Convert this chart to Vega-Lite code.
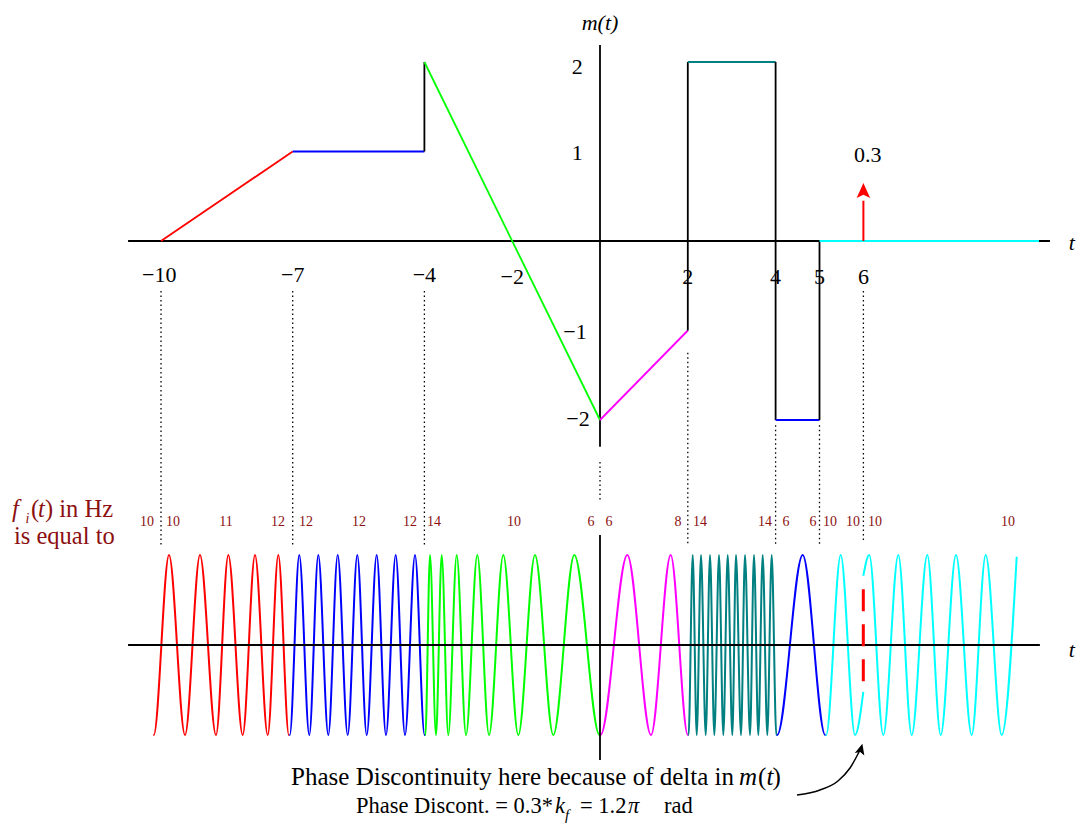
{
  "$schema": "https://vega.github.io/schema/vega-lite/v6.json",
  "width": 1077,
  "height": 825,
  "autosize": {"type": "none"},
  "padding": 0,
  "background": "white",
  "config": {"view": {"stroke": null}},
  "resolve": {"scale": {"y": "independent"}},
  "datasets": {
    "top": [
      {"s":"r","o":0,"t":-10,"m":0,"c":"#ff0000"},{"s":"r","o":1,"t":-7,"m":1,"c":"#ff0000"},
      {"s":"b1","o":0,"t":-7,"m":1,"c":"#0000ff"},{"s":"b1","o":1,"t":-4,"m":1,"c":"#0000ff"},
      {"s":"k1","o":0,"t":-4,"m":1,"c":"#000000"},{"s":"k1","o":1,"t":-4,"m":2,"c":"#000000"},
      {"s":"g","o":0,"t":-4,"m":2,"c":"#00ff00"},{"s":"g","o":1,"t":0,"m":-2,"c":"#00ff00"},
      {"s":"mg","o":0,"t":0,"m":-2,"c":"#ff00ff"},{"s":"mg","o":1,"t":2,"m":-1,"c":"#ff00ff"},
      {"s":"k2","o":0,"t":2,"m":-1,"c":"#000000"},{"s":"k2","o":1,"t":2,"m":2,"c":"#000000"},
      {"s":"tl","o":0,"t":2,"m":2,"c":"#008080"},{"s":"tl","o":1,"t":4,"m":2,"c":"#008080"},
      {"s":"k3","o":0,"t":4,"m":2,"c":"#000000"},{"s":"k3","o":1,"t":4,"m":-2,"c":"#000000"},
      {"s":"b2","o":0,"t":4,"m":-2,"c":"#0000ff"},{"s":"b2","o":1,"t":5,"m":-2,"c":"#0000ff"},
      {"s":"k4","o":0,"t":5,"m":-2,"c":"#000000"},{"s":"k4","o":1,"t":5,"m":0,"c":"#000000"},
      {"s":"cy","o":0,"t":5,"m":0,"c":"#00ffff"},{"s":"cy","o":1,"t":10,"m":0,"c":"#00ffff"}
    ],
    "wave": [
      {"s":"w1","c":"#ff0000","t":-10.175,"a":-1},{"s":"w1","c":"#ff0000","t":-10.165,"a":-1},{"s":"w1","c":"#ff0000","t":-9.818,"a":1},{"s":"w1","c":"#ff0000","t":-9.453,"a":-1},{"s":"w1","c":"#ff0000","t":-9.112,"a":1},{"s":"w1","c":"#ff0000","t":-8.747,"a":-1},{"s":"w1","c":"#ff0000","t":-8.467,"a":1},{"s":"w1","c":"#ff0000","t":-8.139,"a":-1},{"s":"w1","c":"#ff0000","t":-7.859,"a":1},{"s":"w1","c":"#ff0000","t":-7.569,"a":-1},{"s":"w1","c":"#ff0000","t":-7.328,"a":1},{"s":"w1","c":"#ff0000","t":-7.087,"a":-1},{"s":"w1","c":"#ff0000","t":-7.077,"a":-1},
      {"s":"w2","c":"#0000ff","t":-7.077,"a":-1},{"s":"w2","c":"#0000ff","t":-7.067,"a":-1},{"s":"w2","c":"#0000ff","t":-6.850,"a":1},{"s":"w2","c":"#0000ff","t":-6.622,"a":-1},{"s":"w2","c":"#0000ff","t":-6.417,"a":1},{"s":"w2","c":"#0000ff","t":-6.189,"a":-1},{"s":"w2","c":"#0000ff","t":-5.975,"a":1},{"s":"w2","c":"#0000ff","t":-5.747,"a":-1},{"s":"w2","c":"#0000ff","t":-5.528,"a":1},{"s":"w2","c":"#0000ff","t":-5.314,"a":-1},{"s":"w2","c":"#0000ff","t":-5.087,"a":1},{"s":"w2","c":"#0000ff","t":-4.875,"a":-1},{"s":"w2","c":"#0000ff","t":-4.654,"a":1},{"s":"w2","c":"#0000ff","t":-4.442,"a":-1},{"s":"w2","c":"#0000ff","t":-4.214,"a":1},{"s":"w2","c":"#0000ff","t":-3.996,"a":-1},{"s":"w2","c":"#0000ff","t":-3.986,"a":-1},
      {"s":"w3","c":"#00ff00","t":-3.986,"a":-1},{"s":"w3","c":"#00ff00","t":-3.978,"a":-1},{"s":"w3","c":"#00ff00","t":-3.872,"a":1},{"s":"w3","c":"#00ff00","t":-3.736,"a":-1},{"s":"w3","c":"#00ff00","t":-3.606,"a":1},{"s":"w3","c":"#00ff00","t":-3.456,"a":-1},{"s":"w3","c":"#00ff00","t":-3.264,"a":1},{"s":"w3","c":"#00ff00","t":-3.052,"a":-1},{"s":"w3","c":"#00ff00","t":-2.795,"a":1},{"s":"w3","c":"#00ff00","t":-2.528,"a":-1},{"s":"w3","c":"#00ff00","t":-2.203,"a":1},{"s":"w3","c":"#00ff00","t":-1.861,"a":-1},{"s":"w3","c":"#00ff00","t":-1.481,"a":1},{"s":"w3","c":"#00ff00","t":-1.064,"a":-1},{"s":"w3","c":"#00ff00","t":-0.585,"a":1},{"s":"w3","c":"#00ff00","t":-0.01,"a":-1},{"s":"w3","c":"#00ff00","t":0,"a":-1},
      {"s":"w4","c":"#ff00ff","t":0,"a":-1},{"s":"w4","c":"#ff00ff","t":0.01,"a":-1},{"s":"w4","c":"#ff00ff","t":0.622,"a":1},{"s":"w4","c":"#ff00ff","t":1.162,"a":-1},{"s":"w4","c":"#ff00ff","t":1.610,"a":1},{"s":"w4","c":"#ff00ff","t":2.001,"a":-1},{"s":"w4","c":"#ff00ff","t":2.011,"a":-1},
      {"s":"w5","c":"#008080","t":2.011,"a":-1},{"s":"w5","c":"#008080","t":2.018,"a":-1},{"s":"w5","c":"#008080","t":2.112,"a":1},{"s":"w5","c":"#008080","t":2.203,"a":-1},{"s":"w5","c":"#008080","t":2.301,"a":1},{"s":"w5","c":"#008080","t":2.408,"a":-1},{"s":"w5","c":"#008080","t":2.506,"a":1},{"s":"w5","c":"#008080","t":2.604,"a":-1},{"s":"w5","c":"#008080","t":2.711,"a":1},{"s":"w5","c":"#008080","t":2.809,"a":-1},{"s":"w5","c":"#008080","t":2.909,"a":1},{"s":"w5","c":"#008080","t":3.014,"a":-1},{"s":"w5","c":"#008080","t":3.098,"a":1},{"s":"w5","c":"#008080","t":3.212,"a":-1},{"s":"w5","c":"#008080","t":3.303,"a":1},{"s":"w5","c":"#008080","t":3.417,"a":-1},{"s":"w5","c":"#008080","t":3.508,"a":1},{"s":"w5","c":"#008080","t":3.606,"a":-1},{"s":"w5","c":"#008080","t":3.706,"a":1},{"s":"w5","c":"#008080","t":3.811,"a":-1},{"s":"w5","c":"#008080","t":3.911,"a":1},{"s":"w5","c":"#008080","t":4.017,"a":-1},{"s":"w5","c":"#008080","t":4.025,"a":-1},
      {"s":"w6","c":"#0000ff","t":4.025,"a":-1},{"s":"w6","c":"#0000ff","t":4.035,"a":-1},{"s":"w6","c":"#0000ff","t":4.617,"a":1},{"s":"w6","c":"#0000ff","t":5.131,"a":-1},{"s":"w6","c":"#0000ff","t":5.141,"a":-1},
      {"s":"w7","c":"#00ffff","t":5.141,"a":-1},{"s":"w7","c":"#00ffff","t":5.151,"a":-1},{"s":"w7","c":"#00ffff","t":5.483,"a":1},{"s":"w7","c":"#00ffff","t":5.809,"a":-1},{"s":"w7","c":"#00ffff","t":5.998,"a":-0.52},
      {"s":"w8","c":"#00ffff","t":5.998,"a":0.77},{"s":"w8","c":"#00ffff","t":6.134,"a":1},{"s":"w8","c":"#00ffff","t":6.453,"a":-1},{"s":"w8","c":"#00ffff","t":6.795,"a":1},{"s":"w8","c":"#00ffff","t":7.100,"a":-1},{"s":"w8","c":"#00ffff","t":7.456,"a":1},{"s":"w8","c":"#00ffff","t":7.761,"a":-1},{"s":"w8","c":"#00ffff","t":8.109,"a":1},{"s":"w8","c":"#00ffff","t":8.467,"a":-1},{"s":"w8","c":"#00ffff","t":8.786,"a":1},{"s":"w8","c":"#00ffff","t":9.150,"a":-1},{"s":"w8","c":"#00ffff","t":9.492,"a":0.98}
    ]
  },
  "layer": [
    {
      "data": {"values": [{"t":-10.75,"t2":10.25,"m":0,"m2":0},{"t":0,"t2":0,"m":2.19,"m2":-2.30}]},
      "mark": {"type": "rule", "color": "black", "strokeWidth": 1.8},
      "encoding": {
        "x": {"field":"t","type":"quantitative","scale":{"domain":[-13.6674,10.8656],"nice":false,"zero":false},"axis":null},
        "x2": {"field":"t2"},
        "y": {"field":"m","type":"quantitative","scale":{"domain":[-6.5251,2.6927],"nice":false,"zero":false},"axis":null},
        "y2": {"field":"m2"}
      }
    },
    {
      "data": {"values": [{"t":-10,"m":-0.56,"m2":-3.40},{"t":-7,"m":-0.56,"m2":-3.40},{"t":-4,"m":-0.56,"m2":-3.40},{"t":0,"m":-2.47,"m2":-2.89},{"t":2,"m":-1.25,"m2":-3.40},{"t":4,"m":-2.06,"m2":-3.40},{"t":5,"m":-2.06,"m2":-3.40},{"t":6,"m":-0.56,"m2":-3.37}]},
      "mark": {"type": "rule", "color": "black", "strokeWidth": 1.3, "strokeDash": [1.5, 3]},
      "encoding": {
        "x": {"field":"t","type":"quantitative","scale":{"domain":[-13.6674,10.8656],"nice":false,"zero":false},"axis":null},
        "y": {"field":"m","type":"quantitative","scale":{"domain":[-6.5251,2.6927],"nice":false,"zero":false},"axis":null},
        "y2": {"field":"m2"}
      }
    },
    {
      "data": {"name": "top"},
      "mark": {"type": "line", "strokeWidth": 1.8},
      "encoding": {
        "x": {"field":"t","type":"quantitative","scale":{"domain":[-13.6674,10.8656],"nice":false,"zero":false},"axis":null},
        "y": {"field":"m","type":"quantitative","scale":{"domain":[-6.5251,2.6927],"nice":false,"zero":false},"axis":null},
        "detail": {"field":"s"},
        "order": {"field":"o","type":"quantitative"},
        "color": {"field":"c","type":"nominal","scale":null}
      }
    },
    {
      "data": {"values": [{"t":6,"m":0,"m2":0.45}]},
      "mark": {"type": "rule", "color": "#ff0000", "strokeWidth": 2},
      "encoding": {
        "x": {"field":"t","type":"quantitative","scale":{"domain":[-13.6674,10.8656],"nice":false,"zero":false},"axis":null},
        "y": {"field":"m","type":"quantitative","scale":{"domain":[-6.5251,2.6927],"nice":false,"zero":false},"axis":null},
        "y2": {"field":"m2"}
      }
    },
    {
      "data": {"values": [{"t":6,"m":0.564}]},
      "mark": {"type": "point", "filled": true, "opacity": 1, "color": "#ff0000", "size": 225, "shape": "M0,-1L0.9,1L0,0.55L-0.9,1Z"},
      "encoding": {
        "x": {"field":"t","type":"quantitative","scale":{"domain":[-13.6674,10.8656],"nice":false,"zero":false},"axis":null},
        "y": {"field":"m","type":"quantitative","scale":{"domain":[-6.5251,2.6927],"nice":false,"zero":false},"axis":null}
      }
    },
    {
      "data": {"values": [
        {"t":-10.04,"m":-0.38,"txt":"−10"},{"t":-7.0,"m":-0.38,"txt":"−7"},{"t":-4.0,"m":-0.38,"txt":"−4"},{"t":-2.0,"m":-0.40,"txt":"−2"},
        {"t":2,"m":-0.40,"txt":"2"},{"t":4,"m":-0.40,"txt":"4"},{"t":5,"m":-0.40,"txt":"5"},{"t":6,"m":-0.40,"txt":"6"},
        {"t":-0.52,"m":1.94,"txt":"2"},{"t":-0.52,"m":0.98,"txt":"1"},{"t":-0.57,"m":-1.02,"txt":"−1"},{"t":-0.50,"m":-1.99,"txt":"−2"},
        {"t":6.1,"m":0.96,"txt":"0.3"}
      ]},
      "mark": {"type": "text", "font": "Liberation Serif", "fontSize": 22, "align": "center", "baseline": "middle", "color": "black"},
      "encoding": {
        "x": {"field":"t","type":"quantitative","scale":{"domain":[-13.6674,10.8656],"nice":false,"zero":false},"axis":null},
        "y": {"field":"m","type":"quantitative","scale":{"domain":[-6.5251,2.6927],"nice":false,"zero":false},"axis":null},
        "text": {"field":"txt"}
      }
    },
    {
      "data": {"values": [{"t":10.75,"m":-0.02,"txt":"t"},{"t":0,"m":2.44,"txt":"m(t)"}]},
      "mark": {"type": "text", "font": "Liberation Serif", "fontSize": 22, "fontStyle": "italic", "align": "center", "baseline": "middle", "color": "black"},
      "encoding": {
        "x": {"field":"t","type":"quantitative","scale":{"domain":[-13.6674,10.8656],"nice":false,"zero":false},"axis":null},
        "y": {"field":"m","type":"quantitative","scale":{"domain":[-6.5251,2.6927],"nice":false,"zero":false},"axis":null},
        "text": {"field":"txt"}
      }
    },
    {
      "data": {"name": "wave"},
      "mark": {"type": "line", "strokeWidth": 2, "interpolate": "monotone"},
      "encoding": {
        "x": {"field":"t","type":"quantitative","scale":{"domain":[-13.6674,10.8656],"nice":false,"zero":false},"axis":null},
        "y": {"field":"a","type":"quantitative","scale":{"domain":[-2,7.1667],"nice":false,"zero":false},"axis":null},
        "detail": {"field":"s"},
        "color": {"field":"c","type":"nominal","scale":null}
      }
    },
    {
      "data": {"values": [{"t":-10.75,"t2":10.02,"a":0,"a2":0},{"t":0,"t2":0,"a":1.222,"a2":-1.278}]},
      "mark": {"type": "rule", "color": "black", "strokeWidth": 1.8},
      "encoding": {
        "x": {"field":"t","type":"quantitative","scale":{"domain":[-13.6674,10.8656],"nice":false,"zero":false},"axis":null},
        "x2": {"field":"t2"},
        "y": {"field":"a","type":"quantitative","scale":{"domain":[-2,7.1667],"nice":false,"zero":false},"axis":null},
        "y2": {"field":"a2"}
      }
    },
    {
      "data": {"values": [{"t":5.998,"a":0.62,"a2":-0.41}]},
      "mark": {"type": "rule", "color": "#ff0000", "strokeWidth": 3, "strokeDash": [22, 13]},
      "encoding": {
        "x": {"field":"t","type":"quantitative","scale":{"domain":[-13.6674,10.8656],"nice":false,"zero":false},"axis":null},
        "y": {"field":"a","type":"quantitative","scale":{"domain":[-2,7.1667],"nice":false,"zero":false},"axis":null},
        "y2": {"field":"a2"}
      }
    },
    {
      "data": {"values": [{"t":4.487,"a":-1.667},{"t":5.011,"a":-1.611},{"t":5.421,"a":-1.511},{"t":5.695,"a":-1.367},{"t":5.900,"a":-1.189}]},
      "mark": {"type": "line", "color": "black", "strokeWidth": 1.5, "interpolate": "monotone"},
      "encoding": {
        "x": {"field":"t","type":"quantitative","scale":{"domain":[-13.6674,10.8656],"nice":false,"zero":false},"axis":null},
        "y": {"field":"a","type":"quantitative","scale":{"domain":[-2,7.1667],"nice":false,"zero":false},"axis":null}
      }
    },
    {
      "data": {"values": [{"t":5.945,"a":-1.156}]},
      "mark": {"type": "point", "filled": true, "opacity": 1, "color": "black", "size": 120, "angle": 15, "shape": "M0,-1L0.9,1L0,0.55L-0.9,1Z"},
      "encoding": {
        "x": {"field":"t","type":"quantitative","scale":{"domain":[-13.6674,10.8656],"nice":false,"zero":false},"axis":null},
        "y": {"field":"a","type":"quantitative","scale":{"domain":[-2,7.1667],"nice":false,"zero":false},"axis":null}
      }
    },
    {
      "data": {"values": [
        {"t":-10.319,"txt":"10"},{"t":-9.727,"txt":"10"},{"t":-8.519,"txt":"11"},{"t":-7.335,"txt":"12"},{"t":-6.697,"txt":"12"},
        {"t":-5.490,"txt":"12"},{"t":-4.328,"txt":"12"},{"t":-3.781,"txt":"14"},{"t":-1.959,"txt":"10"},{"t":-0.205,"txt":"6"},
        {"t":0.205,"txt":"6"},{"t":1.777,"txt":"8"},{"t":2.278,"txt":"14"},{"t":3.759,"txt":"14"},{"t":4.237,"txt":"6"},
        {"t":4.852,"txt":"6"},{"t":5.239,"txt":"10"},{"t":5.763,"txt":"10"},{"t":6.264,"txt":"10"},{"t":9.294,"txt":"10"}
      ]},
      "mark": {"type": "text", "font": "Liberation Serif", "fontSize": 14, "align": "center", "baseline": "middle", "color": "#8c1010"},
      "encoding": {
        "x": {"field":"t","type":"quantitative","scale":{"domain":[-13.6674,10.8656],"nice":false,"zero":false},"axis":null},
        "y": {"datum": 1.367, "type":"quantitative","scale":{"domain":[-2,7.1667],"nice":false,"zero":false},"axis":null},
        "text": {"field":"txt"}
      }
    },
    {
      "data": {"values": [{"t":10.75,"a":-0.05,"txt":"t"}]},
      "mark": {"type": "text", "font": "Liberation Serif", "fontSize": 22, "fontStyle": "italic", "align": "center", "baseline": "middle", "color": "black"},
      "encoding": {
        "x": {"field":"t","type":"quantitative","scale":{"domain":[-13.6674,10.8656],"nice":false,"zero":false},"axis":null},
        "y": {"field":"a","type":"quantitative","scale":{"domain":[-2,7.1667],"nice":false,"zero":false},"axis":null},
        "text": {"field":"txt"}
      }
    },
    {
      "data": {"values": [
        {"t":-12.962,"a":1.5,"txt":"(","fs":24.5,"col":"#8c1010"},
        {"t":-12.643,"a":1.5,"txt":") in Hz","fs":24.5,"col":"#8c1010"},
        {"t":-13.348,"a":1.2,"txt":"is equal to","fs":24.5,"col":"#8c1010"},
        {"t":-0.456,"a":-1.789,"txt":"= 1.2","fs":22.5,"col":"#000000"},
        {"t":1.458,"a":-1.789,"txt":"rad","fs":22.5,"col":"#000000"},
        {"t":3.599,"a":-1.467,"txt":"(","fs":25,"col":"#000000"},
        {"t":3.93,"a":-1.467,"txt":")","fs":25,"col":"#000000"}
      ]},
      "mark": {"type": "text", "font": "Liberation Serif", "align": "left", "baseline": "middle"},
      "encoding": {
        "x": {"field":"t","type":"quantitative","scale":{"domain":[-13.6674,10.8656],"nice":false,"zero":false},"axis":null},
        "y": {"field":"a","type":"quantitative","scale":{"domain":[-2,7.1667],"nice":false,"zero":false},"axis":null},
        "text": {"field":"txt"},
        "size": {"field":"fs","type":"quantitative","scale":null},
        "color": {"field":"col","type":"nominal","scale":null}
      }
    },
    {
      "data": {"values": [
        {"t":-13.394,"a":1.5,"txt":"f","fs":24.5,"col":"#8c1010"},
        {"t":-13.086,"a":1.40,"txt":"i","fs":14,"col":"#8c1010"},
        {"t":-12.802,"a":1.5,"txt":"t","fs":24.5,"col":"#8c1010"},
        {"t":3.166,"a":-1.467,"txt":"m","fs":25,"col":"#000000"},
        {"t":3.793,"a":-1.467,"txt":"t","fs":25,"col":"#000000"},
        {"t":-1.025,"a":-1.789,"txt":"k","fs":22.5,"col":"#000000"},
        {"t":-0.797,"a":-1.885,"txt":"f","fs":15,"col":"#000000"},
        {"t":0.638,"a":-1.789,"txt":"π","fs":22.5,"col":"#000000"}
      ]},
      "mark": {"type": "text", "font": "Liberation Serif", "fontStyle": "italic", "align": "left", "baseline": "middle"},
      "encoding": {
        "x": {"field":"t","type":"quantitative","scale":{"domain":[-13.6674,10.8656],"nice":false,"zero":false},"axis":null},
        "y": {"field":"a","type":"quantitative","scale":{"domain":[-2,7.1667],"nice":false,"zero":false},"axis":null},
        "text": {"field":"txt"},
        "size": {"field":"fs","type":"quantitative","scale":null},
        "color": {"field":"col","type":"nominal","scale":null}
      }
    },
    {
      "data": {"values": [
        {"t":3.052,"a":-1.467,"txt":"Phase Discontinuity here because of delta in","fs":25},
        {"t":-1.071,"a":-1.789,"txt":"Phase Discont. = 0.3*","fs":22.5}
      ]},
      "mark": {"type": "text", "font": "Liberation Serif", "align": "right", "baseline": "middle", "color": "black"},
      "encoding": {
        "x": {"field":"t","type":"quantitative","scale":{"domain":[-13.6674,10.8656],"nice":false,"zero":false},"axis":null},
        "y": {"field":"a","type":"quantitative","scale":{"domain":[-2,7.1667],"nice":false,"zero":false},"axis":null},
        "text": {"field":"txt"},
        "size": {"field":"fs","type":"quantitative","scale":null}
      }
    }
  ]
}
